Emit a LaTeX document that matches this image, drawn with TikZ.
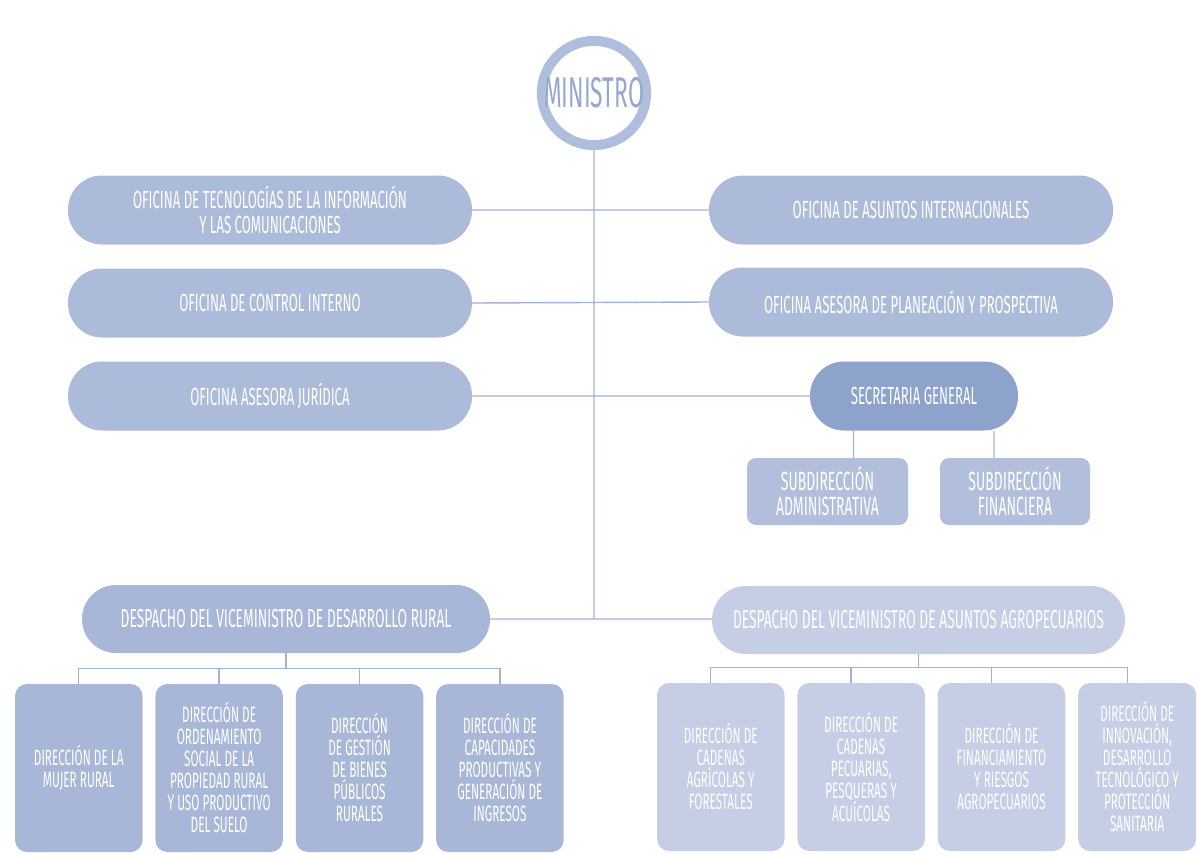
\documentclass[tikz,border=0pt]{standalone}
\usepackage{fontspec}
\setmainfont{Fira Sans}[FakeStretch=0.53]
\usetikzlibrary{positioning}
\definecolor{lineblue}{RGB}{162,178,211}
\definecolor{ringblue}{RGB}{176,190,222}
\definecolor{ministroblue}{RGB}{150,168,206}
\definecolor{officeblue}{RGB}{173,187,218}
\definecolor{secblue}{RGB}{142,163,204}
\definecolor{subblue}{RGB}{177,191,221}
\definecolor{ruralblue}{RGB}{168,183,215}
\definecolor{agroblue}{RGB}{197,206,229}
\tikzset {
    x=1pt, y=-1pt,
    node distance=12.5pt,
    link/.style={draw=lineblue, line width=1.4pt},
    office/.style={fill=officeblue, text=white, rounded corners=34pt, inner sep=0pt,
        minimum width=404pt, minimum height=69pt, align=center,
        font=\fontsize{24.8}{25}\selectfont},
    subdir/.style={fill=subblue, text=white, rounded corners=9pt, inner sep=0pt,
        minimum height=67pt, align=center, font=\fontsize{26.4}{25}\selectfont},
    despacho/.style={office, minimum height=68pt, font=\fontsize{26}{26}\selectfont},
    direccion/.style={fill=ruralblue, text=white, rounded corners=12pt, inner sep=0pt,
        minimum width=127.5pt, minimum height=168pt, align=center,
        font=\fontsize{22.2}{22}\selectfont}
}
\begin{document}
\begin{tikzpicture}
    \fill[white] (0,0) rectangle (1197,854);
    \useasboundingbox (0,0) rectangle (1197,854);

    \node[circle, draw=ringblue, line width=10pt, fill=white, minimum size=101pt,
          inner sep=0pt, text=ministroblue, font=\fontsize{43}{42}\selectfont]
          (ministro) at (594,93) {MINISTRO};

    % oficinas
    \node[office] (tic) at (270,210) {OFICINA DE TECNOLOGÍAS DE LA INFORMACIÓN\\Y LAS COMUNICACIONES};
    \node[office] (control) at (270,303) {OFICINA DE CONTROL INTERNO};
    \node[office] (juridica) at (270,396) {OFICINA ASESORA JURÍDICA};
    \node[office] (internac) at (911,210) {OFICINA DE ASUNTOS INTERNACIONALES};
    \node[office] (planeacion) at (911,302) {OFICINA ASESORA DE PLANEACIÓN Y PROSPECTIVA};
    \node[office, fill=secblue, minimum width=208pt] (secgen) at (914,396) {SECRETARIA GENERAL};

    \node[subdir, minimum width=161pt] (subadm) at (827.5,491.5) {SUBDIRECCIÓN\\ADMINISTRATIVA};
    \node[subdir, minimum width=150pt] (subfin) at (1015,491.5) {SUBDIRECCIÓN\\FINANCIERA};

    % viceministros
    \node[despacho, fill=ruralblue, minimum width=408pt] (rural) at (286,619) {DESPACHO DEL VICEMINISTRO DE DESARROLLO RURAL};
    \node[despacho, fill=agroblue, minimum width=413pt] (agro) at (918.5,620) {DESPACHO DEL VICEMINISTRO DE ASUNTOS AGROPECUARIOS};

    \node[direccion] (dr1) at (78.75,768) {DIRECCIÓN DE LA\\MUJER RURAL};
    \node[direccion, right=of dr1] (dr2) {DIRECCIÓN DE\\ORDENAMIENTO\\SOCIAL DE LA\\PROPIEDAD RURAL\\Y USO PRODUCTIVO\\DEL SUELO};
    \node[direccion, right=of dr2] (dr3) {DIRECCIÓN\\DE GESTIÓN\\DE BIENES\\PÚBLICOS\\RURALES};
    \node[direccion, right=of dr3] (dr4) {DIRECCIÓN DE\\CAPACIDADES\\PRODUCTIVAS Y\\GENERACIÓN DE\\INGRESOS};

    \node[direccion, fill=agroblue] (da1) at (720.75,767) {DIRECCIÓN DE\\CADENAS\\AGRÍCOLAS Y\\FORESTALES};
    \node[direccion, fill=agroblue, right=of da1] (da2) {DIRECCIÓN DE\\CADENAS\\PECUARIAS,\\PESQUERAS Y\\ACUÍCOLAS};
    \node[direccion, fill=agroblue, right=of da2] (da3) {DIRECCIÓN DE\\FINANCIAMIENTO\\Y RIESGOS\\AGROPECUARIOS};
    \node[direccion, fill=agroblue, minimum width=118pt, right=of da3] (da4) {DIRECCIÓN DE\\INNOVACIÓN,\\DESARROLLO\\TECNOLÓGICO Y\\PROTECCIÓN\\SANITARIA};

    \draw[link]
    (ministro.south) -- (ministro.south |- rural.east)
    (tic.east) -- (internac.west)
    (control.east) -- (planeacion.west)
    (juridica.east) -- (secgen.west)
    (rural.east) -- (rural.east -| agro.west)
    ([xshift=26pt]subadm.north) -- ([xshift=26pt]subadm.north |- secgen.south)
    ([xshift=-21pt]subfin.north) -- ([xshift=-21pt]subfin.north |- secgen.south);

    \coordinate (busrural) at ([yshift=-15pt]rural.south);
    \coordinate (busagro) at ([yshift=-13pt]agro.south);
    \draw[link] (rural.south) -- (busrural);
    \draw[link] (agro.south) -- (busagro);
    \foreach \d in {dr1,dr2,dr3,dr4}
        \draw[link] (\d.north) |- (busrural);
    \foreach \d in {da1,da2,da3,da4}
        \draw[link] ([xshift=-10pt]\d.north) |- (busagro);
\end{tikzpicture}
\end{document}
